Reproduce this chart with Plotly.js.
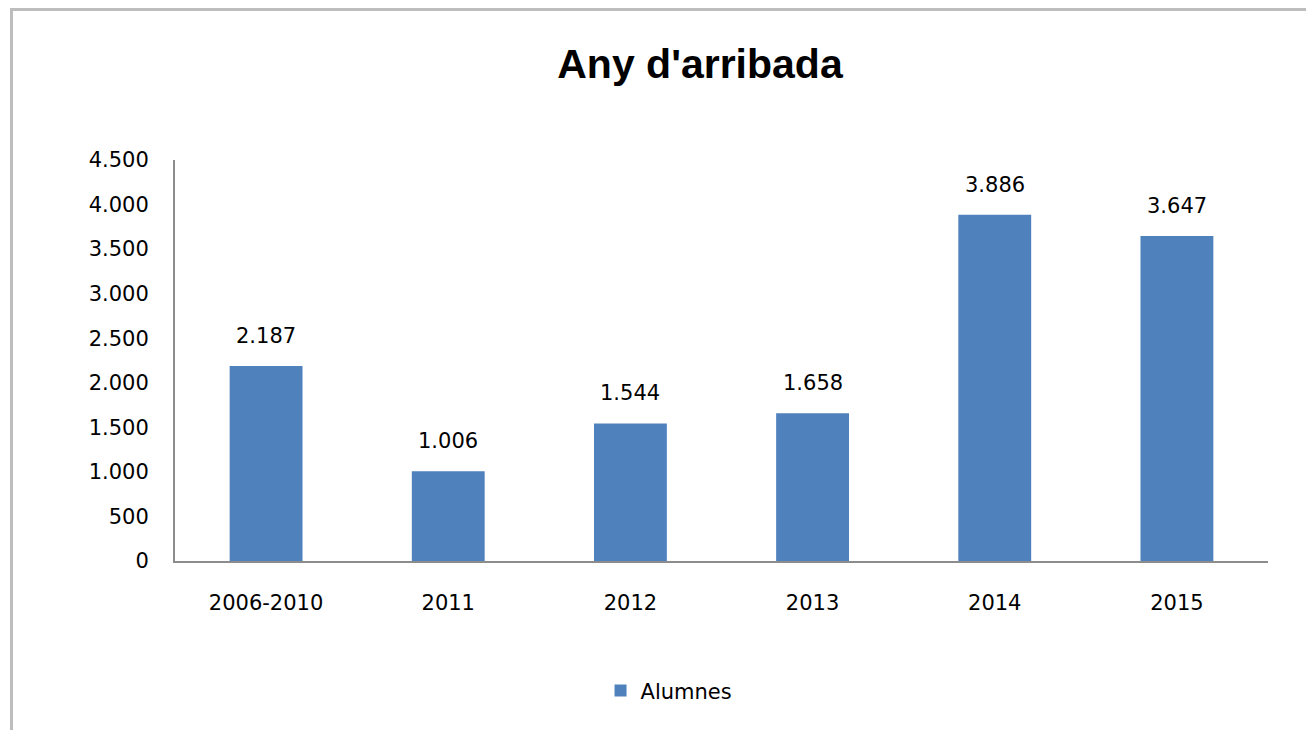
<!DOCTYPE html>
<html>
<head>
<meta charset="utf-8">
<script src="https://cdn.plot.ly/plotly-3.0.1.min.js"></script>
<style>
  html, body { margin: 0; padding: 0; background: #fff; overflow: hidden; }
  #chart { width: 1306px; height: 730px; }
  #frame { position: absolute; left: 10px; top: 8px; width: 1400px; height: 800px;
           border: 3px solid #bdbdbd; pointer-events: none; box-sizing: border-box; }
</style>
</head>
<body>
<div id="chart"></div>
<div id="frame"></div>
<script>
const categories = ['2006-2010', '2011', '2012', '2013', '2014', '2015'];
const alumnes = [2187, 1006, 1544, 1658, 3886, 3647];
const seriesName = 'Alumnes';
const yTicks = [0, 500, 1000, 1500, 2000, 2500, 3000, 3500, 4000, 4500];

const fontFam = 'DejaVu Sans, Verdana, sans-serif';

function fmt(v) {
  return String(v).replace(/\B(?=(\d{3})+(?!\d))/g, '.');
}

const trace = {
  type: 'bar',
  x: categories,
  y: alumnes,
  name: seriesName,
  marker: { color: '#4F81BD' },
  showlegend: true
};

const annotations = categories.map((c, i) => ({
  x: i,
  y: alumnes[i],
  xref: 'x',
  yref: 'y',
  text: fmt(alumnes[i]),
  showarrow: false,
  xanchor: 'center',
  yanchor: 'bottom',
  yshift: 16,
  font: { family: fontFam, size: 21, color: '#000' }
}));

const layout = {
  width: 1306,
  height: 730,
  separators: ',.',
  paper_bgcolor: '#fff',
  plot_bgcolor: '#fff',
  margin: { l: 175, r: 38, t: 160, b: 169 },
  bargap: 0.6,
  annotations: annotations,
  title: {
    text: "Any d'arribada",
    font: { family: 'Liberation Sans, Arial, sans-serif', size: 41, color: '#000', weight: 'bold' },
    x: 700 / 1306,
    xref: 'container',
    xanchor: 'center',
    y: 1 - 64 / 730,
    yref: 'container',
    yanchor: 'middle'
  },
  xaxis: {
    type: 'category',
    range: [-0.5, categories.length - 0.5],
    showline: true,
    linecolor: '#8c8c8c',
    linewidth: 2,
    ticks: '',
    showgrid: false,
    zeroline: false,
    ticklabelstandoff: 22,
    tickfont: { family: fontFam, size: 21, color: '#000' }
  },
  yaxis: {
    range: [0, 4500],
    tickvals: yTicks,
    tickformat: ',d',
    showline: true,
    linecolor: '#8c8c8c',
    linewidth: 2,
    ticks: '',
    showgrid: false,
    zeroline: false,
    ticklabelstandoff: 20,
    tickfont: { family: fontFam, size: 21, color: '#000' }
  },
  legend: {
    orientation: 'h',
    x: 0.452,
    xanchor: 'center',
    y: -0.324,
    yanchor: 'middle',
    font: { family: fontFam, size: 21, color: '#000' }
  }
};

Plotly.newPlot('chart', [trace], layout, { staticPlot: true, displayModeBar: false });
</script>
</body>
</html>
